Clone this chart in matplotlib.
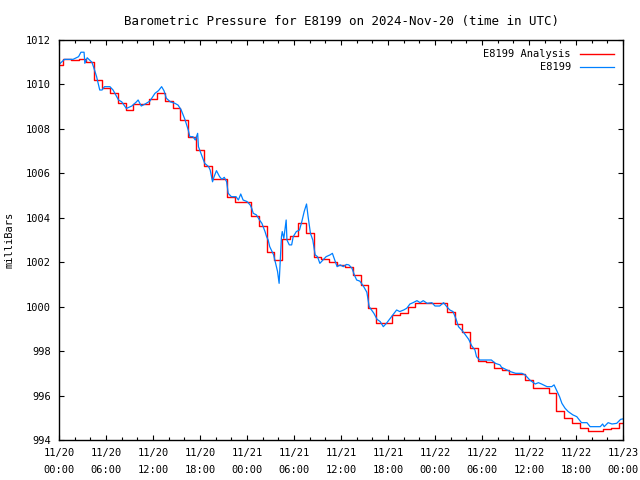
import matplotlib
matplotlib.use("Agg")
import matplotlib.pyplot as plt
import numpy as np

# hours since 2024-11-20 00:00 UTC
analysis_hours = list(range(73))
analysis_mbar = [
    1010.87, 1011.13, 1011.10, 1011.15, 1011.00, 1010.20, 1009.82, 1009.60, 1009.15, 1008.85,
    1009.12, 1009.12, 1009.35, 1009.60, 1009.27, 1008.95, 1008.40, 1007.65, 1007.05, 1006.35,
    1005.73, 1005.73, 1004.95, 1004.73, 1004.73, 1004.10, 1003.63, 1002.48, 1002.10, 1003.03,
    1003.20, 1003.75, 1003.33, 1002.25, 1002.13, 1002.00, 1001.88, 1001.77, 1001.43, 1000.98,
    999.93, 999.28, 999.28, 999.63, 999.73, 1000.00, 1000.15, 1000.15, 1000.15, 1000.15,
    999.78, 999.22, 998.85, 998.13, 997.57, 997.50, 997.25, 997.15, 996.97, 996.97,
    996.70, 996.32, 996.32, 996.10, 995.30, 994.98, 994.75, 994.53, 994.42, 994.42,
    994.50, 994.53, 994.75,
]

station_hours = [
    0.0, 0.7, 1.8, 2.5, 2.8, 3.2, 3.3, 3.6, 4.2, 4.4, 4.8, 5.2, 5.5, 5.8, 6.5, 6.9,
    7.6, 8.0, 8.6, 9.3, 9.9, 10.1, 10.5, 11.0, 11.6, 12.25, 12.7, 13.1, 13.4, 13.7,
    14.2, 14.8, 15.2, 15.6, 16.1, 16.5, 16.7, 17.1, 17.4, 17.7, 17.8, 18.2, 18.6,
    19.1, 19.3, 19.6, 19.8, 20.1, 20.5, 20.8, 21.1, 21.4, 21.6, 22.0, 22.6, 22.9,
    23.2, 23.5, 24.0, 24.4, 24.6, 24.8, 25.2, 25.6, 25.9, 26.3, 26.5, 26.7, 26.9,
    27.4, 27.6, 27.9, 28.1, 28.2, 28.4, 28.5, 28.7, 29.0, 29.1, 29.4, 29.7, 29.9,
    30.3, 30.7, 31.0, 31.3, 31.6, 31.8, 32.1, 32.4, 32.7, 33.0, 33.3, 33.7, 34.1,
    34.6, 34.9, 35.2, 35.5, 35.9, 36.3, 36.7, 37.0, 37.4, 37.7, 38.0, 38.4, 38.85,
    39.3, 39.6, 39.9, 40.2, 40.6, 41.0, 41.4, 41.8, 42.3, 42.7, 43.1, 43.5, 44.0,
    44.4, 44.8, 45.2, 45.7, 46.1, 46.5, 47.0, 47.6, 48.0, 48.6, 49.1, 49.5, 49.9,
    50.3, 50.7, 51.0, 51.4, 51.8, 52.3, 52.7, 53.1, 53.3, 53.7, 55.2, 55.7, 56.3,
    56.5, 57.2, 57.6, 58.3, 59.1, 59.5, 60.1, 60.8, 61.2, 61.6, 62.3, 62.9, 63.2,
    63.5, 63.9, 64.2, 64.6, 65.0, 65.6, 66.1, 66.7, 67.4, 67.8, 69.1, 69.4, 69.6,
    70.1, 70.6, 71.2, 71.7, 72.0,
]
station_mbar = [
    1010.90, 1011.13, 1011.13, 1011.25, 1011.45, 1011.45, 1010.95, 1011.20, 1011.00, 1010.80,
    1010.35, 1009.75, 1009.75, 1009.90, 1009.90, 1009.75, 1009.30, 1009.22, 1008.92, 1009.03,
    1009.22, 1009.30, 1009.03, 1009.12, 1009.25, 1009.60, 1009.72, 1009.90, 1009.72, 1009.38,
    1009.22, 1009.15, 1009.07, 1008.85, 1008.40, 1007.95, 1007.65, 1007.65, 1007.50, 1007.80,
    1007.20, 1006.82, 1006.45, 1006.30, 1006.15, 1005.62, 1005.85, 1006.12, 1005.85, 1005.73,
    1005.82, 1005.62, 1005.10, 1004.95, 1004.95, 1004.80, 1005.07, 1004.80, 1004.73, 1004.58,
    1004.43, 1004.20, 1004.13, 1003.90, 1003.75, 1003.38, 1003.15, 1003.00, 1002.70, 1002.33,
    1002.03, 1001.58, 1001.05, 1001.73, 1003.15, 1003.38, 1003.07, 1003.90, 1003.00, 1002.78,
    1002.78, 1003.15, 1003.38, 1003.45, 1003.83, 1004.28, 1004.62, 1004.05, 1003.30, 1003.00,
    1002.33, 1002.25, 1001.95, 1002.10, 1002.25, 1002.33, 1002.40, 1002.10, 1001.80, 1001.88,
    1001.80, 1001.90, 1001.88, 1001.73, 1001.43, 1001.20, 1001.15, 1000.93, 1000.65, 1000.00,
    999.85, 999.70, 999.43, 999.33, 999.10, 999.25, 999.48, 999.67, 999.85, 999.78,
    999.85, 999.93, 1000.12, 1000.18, 1000.27, 1000.18, 1000.27, 1000.15, 1000.18, 1000.03,
    1000.03, 1000.18, 1000.00, 999.85, 999.78, 999.43, 999.10, 998.95, 998.77, 998.53,
    998.23, 998.05, 997.75, 997.60, 997.60, 997.45, 997.38, 997.27, 997.15, 997.08,
    997.00, 997.00, 996.93, 996.70, 996.52, 996.58, 996.52, 996.40, 996.40, 996.48,
    996.25, 995.95, 995.65, 995.43, 995.28, 995.13, 995.05, 994.78, 994.78, 994.60,
    994.60, 994.72, 994.60, 994.78, 994.72, 994.75, 994.93, 994.95,
]

tick_hours = list(range(0, 73, 6))
tick_labels = ["11/20\n00:00", "11/20\n06:00", "11/20\n12:00", "11/20\n18:00",
               "11/21\n00:00", "11/21\n06:00", "11/21\n12:00", "11/21\n18:00",
               "11/22\n00:00", "11/22\n06:00", "11/22\n12:00", "11/22\n18:00",
               "11/23\n00:00"]

plt.rcParams['font.family'] = ['DejaVu Sans Mono']
plt.rcParams['font.size'] = 7.5

fig = plt.figure(figsize=(6.4, 4.8), dpi=100)
ax = fig.add_axes([59 / 640, 40 / 480, 564 / 640, 400 / 480])

ax.plot(analysis_hours, analysis_mbar, color='#ff0000', lw=1.0,
        drawstyle='steps-mid', label='E8199 Analysis')
ax.plot(station_hours, station_mbar, color='#0080ff', lw=0.9, label='E8199')

ax.set_xlim(0, 72)
ax.set_ylim(994, 1012)
ax.set_xticks(tick_hours)
ax.set_xticklabels(tick_labels, linespacing=1.8)
ax.set_xticks(range(0, 73, 2), minor=True)
ax.set_yticks(range(994, 1013, 2))
ax.tick_params(which='both', direction='in', top=True, right=True, color='black')
ax.tick_params(which='major', length=3.5, width=0.8, pad=6)
ax.tick_params(axis='y', which='major', length=3.5, pad=6)
ax.tick_params(which='minor', length=2, width=0.8)
for s in ax.spines.values():
    s.set_linewidth(1.0)

ax.set_ylabel('milliBars', labelpad=8)
ax.set_title('Barometric Pressure for E8199 on 2024-Nov-20 (time in UTC)', pad=11)

ax.legend(loc='upper right', frameon=False, markerfirst=False, handlelength=3.2,
          handletextpad=0.9, borderaxespad=0.5, labelspacing=0.3)

fig.savefig('out.png', dpi=100)
